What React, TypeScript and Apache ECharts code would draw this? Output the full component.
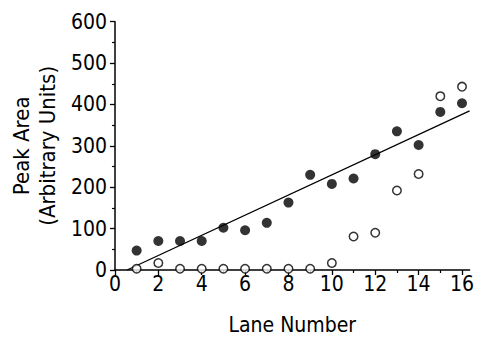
import React, { useEffect, useRef } from "react";
import * as echarts from "echarts";

const lanes = [1, 2, 3, 4, 5, 6, 7, 8, 9, 10, 11, 12, 13, 14, 15, 16];
const filledValues = [47, 70, 70, 70, 102, 96, 114, 163, 230, 208, 221, 280, 335, 302, 382, 403];
const openValues = [3, 17, 3, 3, 3, 3, 3, 3, 3, 17, 81, 90, 192, 232, 420, 443];
const xMajorTicks = [0, 2, 4, 6, 8, 10, 12, 14, 16];
const xMinorTicks = [1, 3, 5, 7, 9, 11, 13, 15];
const X_MAX = 16.35;

const FONT = "'DejaVu Sans Condensed', 'Liberation Sans Narrow', 'DejaVu Sans', sans-serif";

function fitLine(xs: number[], ys: number[]) {
  const n = xs.length;
  const mx = xs.reduce((a, b) => a + b, 0) / n;
  const my = ys.reduce((a, b) => a + b, 0) / n;
  let sxy = 0, sxx = 0;
  for (let i = 0; i < n; i++) {
    sxy += (xs[i] - mx) * (ys[i] - my);
    sxx += (xs[i] - mx) * (xs[i] - mx);
  }
  const slope = sxy / sxx;
  const intercept = my - slope * mx;
  return { slope, intercept };
}

export default function App() {
  const ref = useRef<HTMLDivElement>(null);
  useEffect(() => {
    if (!ref.current) return;
    const chart = echarts.init(ref.current, null, { renderer: "svg" });
    const { slope, intercept } = fitLine(lanes, filledValues);
    const x0 = -intercept / slope;
    const fit = [
      [x0, 0],
      [X_MAX, slope * X_MAX + intercept],
    ];
    const axisLine = { show: true, lineStyle: { color: "#000", width: 1.5 } };
    chart.setOption({
      animation: false,
      backgroundColor: "#fff",
      grid: { left: 114, right: 0, top: 21.7, bottom: 66, containLabel: false },
      xAxis: [
        {
          type: "value",
          min: 0,
          max: X_MAX,
          axisLine,
          splitLine: { show: false },
          axisTick: { show: true, length: 5, customValues: xMajorTicks, lineStyle: { color: "#000", width: 1.3 } },
          axisLabel: {
            customValues: xMajorTicks,
            color: "#000",
            fontFamily: FONT,
            fontSize: 21,
            margin: 3,
          },
          name: "Lane Number",
          nameLocation: "middle",
          nameGap: 44,
          nameTextStyle: { color: "#000", fontFamily: FONT, fontSize: 21 },
        },
        {
          type: "value",
          min: 0,
          max: X_MAX,
          position: "bottom",
          axisLine: { show: false },
          splitLine: { show: false },
          axisTick: { show: true, length: 3, customValues: xMinorTicks, lineStyle: { color: "#000", width: 1.2 } },
          axisLabel: { show: false },
        },
      ],
      yAxis: {
        type: "value",
        min: 0,
        max: 600,
        interval: 100,
        axisLine,
        splitLine: { show: false },
        axisTick: { show: true, length: 5, lineStyle: { color: "#000", width: 1.3 } },
        minorTick: { show: true, splitNumber: 2, length: 3, lineStyle: { color: "#000", width: 1.2 } },
        axisLabel: { color: "#000", fontFamily: FONT, fontSize: 21, margin: 8 },
        name: "Peak Area\n(Arbitrary Units)",
        nameLocation: "middle",
        nameRotate: 90,
        nameGap: 51,
        nameTextStyle: { color: "#000", fontFamily: FONT, fontSize: 22, lineHeight: 26 },
      },
      series: [
        {
          type: "line",
          data: fit,
          showSymbol: false,
          lineStyle: { color: "#000", width: 1.3 },
          silent: true,
          z: 1,
        },
        {
          type: "scatter",
          data: lanes.map((l, i) => [l, openValues[i]]),
          symbol: "circle",
          symbolSize: 8.5,
          itemStyle: { color: "#fff", borderColor: "#000", borderWidth: 1.5 },
          z: 2,
        },
        {
          type: "scatter",
          data: lanes.map((l, i) => [l, filledValues[i]]),
          symbol: "circle",
          symbolSize: 10,
          itemStyle: { color: "#000" },
          z: 3,
        },
      ],
    });
    return () => chart.dispose();
  }, []);
  return (
    <div
      ref={ref}
      style={{ position: "fixed", left: 0, top: 0, width: 477, height: 340, background: "#fff" }}
    />
  );
}
